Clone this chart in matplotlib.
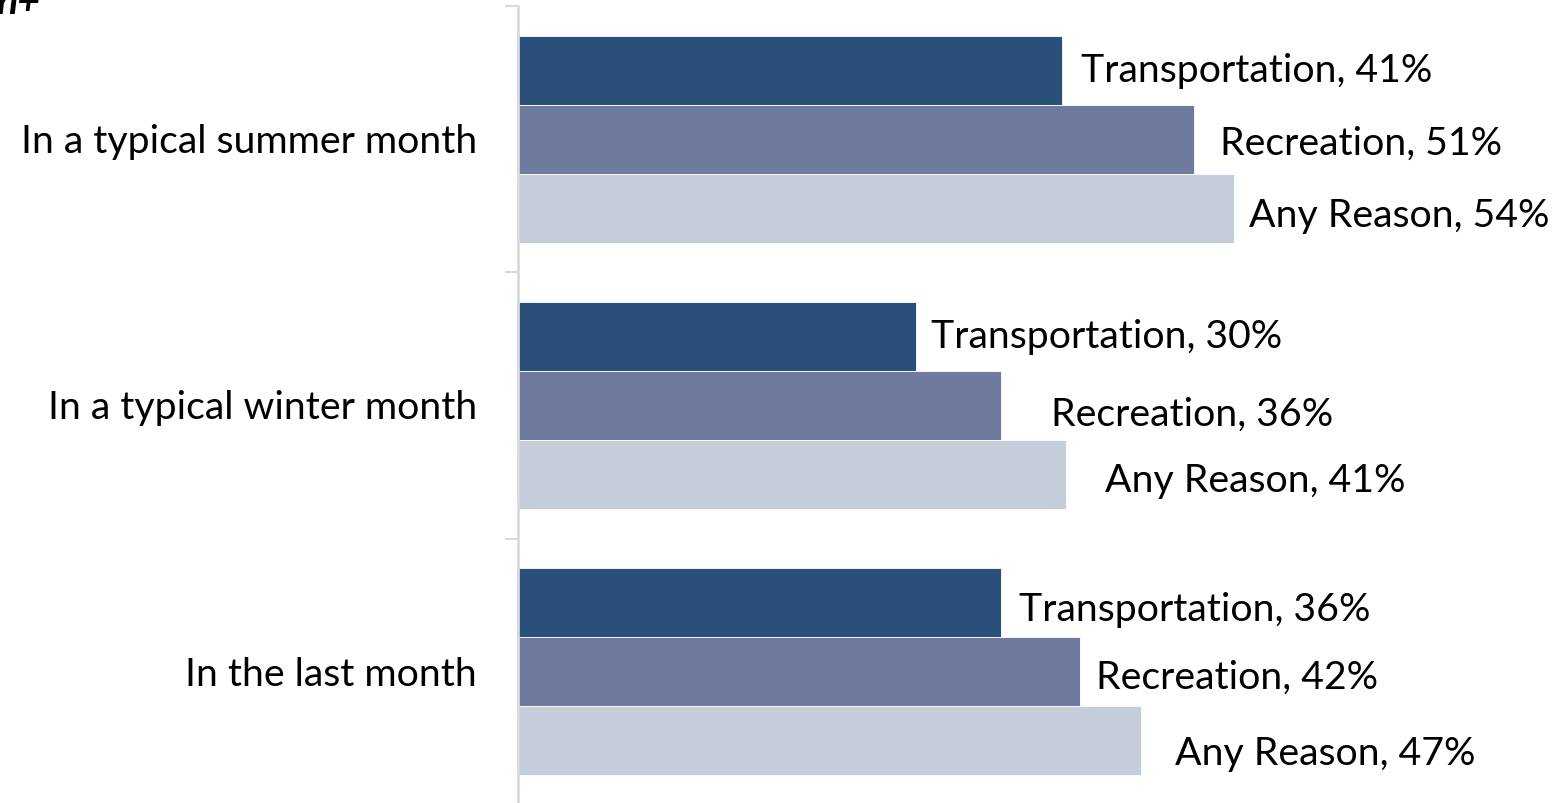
import numpy as np
import matplotlib.pyplot as plt

# data (bar lengths; labels show them rounded)
periods = ["In a typical summer month", "In a typical winter month", "In the last month"]
series = ["Transportation", "Recreation", "Any Reason"]
transportation = [41.0, 30.0, 36.4]
recreation = [51.0, 36.4, 42.4]
any_reason = [54.0, 41.3, 47.0]

colors = ["#2A4F78", "#6E7B9E", "#C5CCDA"]
# hand-placed label nudges (pixels: right of bar end, down from bar centre)
label_dx = [[19, 26, 15], [15, 50, 39], [18, 16, 34]]
label_dy = [[-2, 2, 5], [-3, 6, 4], [4, 3, 10]]

W, H = 1554, 804
plt.rcParams["font.family"] = ["Lato", "DejaVu Sans"]
fig = plt.figure(figsize=(W / 100, H / 100), dpi=100)
ax = fig.add_axes([518 / W, -2 / H, 1 - 518 / W, (804 - 7 + 2) / H])

vals = [transportation, recreation, any_reason]
y = np.arange(len(periods))
bh = 0.259
px2pt = 72 / 100
fs = 28.3

for j, name in enumerate(series):
    ypos = y + (j - 1) * bh
    ax.barh(ypos, vals[j], height=bh, color=colors[j], edgecolor="white", linewidth=0.6)
    for i in range(len(periods)):
        ax.annotate(f"{name}, {vals[j][i]:.0f}%", (vals[j][i], ypos[i]),
                    xytext=(label_dx[i][j] * px2pt, -(label_dy[i][j] + 13) * px2pt),
                    textcoords="offset points", ha="left", va="baseline",
                    fontsize=fs, color="black")

ax.set_xlim(0, (W - 518) / 13.26)
ax.set_ylim(2.5, -0.5)
ax.set_xticks([])
ax.set_yticks(y)
ax.set_yticklabels([])
ax.tick_params(axis="y", which="major", length=0)
ax.set_yticks([-0.5, 0.5, 1.5, 2.5], minor=True)
ax.tick_params(axis="y", which="minor", length=13 * px2pt, width=1.5, color="#D9D9D9")

for s in ["top", "right", "bottom"]:
    ax.spines[s].set_visible(False)
ax.spines["left"].set_color("#D9D9D9")
ax.spines["left"].set_linewidth(2)

for i, p in enumerate(periods):
    ax.annotate(p, (0, y[i]), xytext=(-41 * px2pt, -13 * px2pt), textcoords="offset points",
                ha="right", va="baseline", fontsize=fs, color="black")

# title above is cropped off in the reference; only its tail shows
fig.text(40 / W, 1 - 14 / H, "n+", ha="right", va="baseline", fontsize=fs,
         fontweight="bold", fontstyle="italic")

fig.savefig("out.png", dpi=100)
